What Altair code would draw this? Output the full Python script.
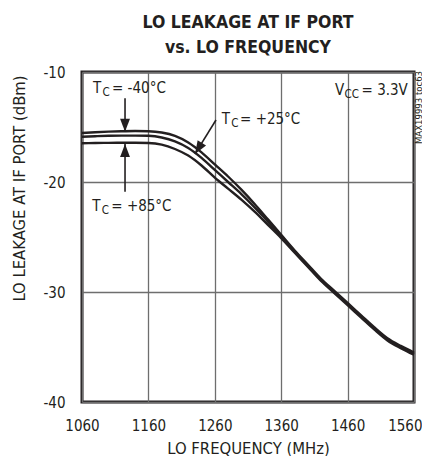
import altair as alt
import pandas as pd

# ---- data ----
freq = [1060, 1080, 1100, 1120, 1140, 1160, 1180, 1200, 1220, 1240, 1260, 1280, 1300,
        1320, 1340, 1360, 1380, 1400, 1420, 1440, 1460, 1480, 1500, 1520, 1540, 1560]
tc_m40 = [-15.55, -15.48, -15.42, -15.38, -15.36, -15.38, -15.5, -15.8, -16.4, -17.3, -18.4, -19.5, -20.7,
          -22.0, -23.4, -24.8, -26.2, -27.5, -28.8, -29.9, -31.0, -32.1, -33.2, -34.2, -34.9, -35.5]
tc_p25 = [-15.88, -15.84, -15.8, -15.78, -15.78, -15.8, -15.95, -16.3, -16.9, -17.8, -18.9, -20.0, -21.1,
          -22.3, -23.6, -24.9, -26.3, -27.6, -28.9, -30.0, -31.1, -32.2, -33.3, -34.3, -35.0, -35.6]
tc_p85 = [-16.48, -16.46, -16.44, -16.43, -16.43, -16.45, -16.6, -17.0, -17.6, -18.5, -19.6, -20.6, -21.6,
          -22.7, -23.9, -25.1, -26.4, -27.7, -29.0, -30.1, -31.2, -32.3, -33.4, -34.4, -35.1, -35.7]
series_names = ["TC = -40°C", "TC = +25°C", "TC = +85°C"]

x_ticks = [1060, 1160, 1260, 1360, 1460, 1560]
y_ticks = [-40, -30, -20, -10]

# annotation labels (anchor in data units)
ann_main = ["T", "T", "T", "V"]
ann_sub = ["C", "C", "C", "CC"]
ann_rest = ["= -40°C", "= +25°C", "= +85°C", "= 3.3V"]
ann_freq = [1076.6, 1270.4, 1075.5, 1441.0]
ann_db = [-11.94, -14.75, -22.64, -12.09]
ann_rest_freq = [1105.2, 1298.0, 1104.1, 1481.0]

# arrows (start -> tip) in data units
arr_f1 = [1124.8, 1124.8, 1261.8]
arr_d1 = [-12.39, -20.88, -14.36]
arr_f2 = [1124.8, 1124.8, 1230.2]
arr_d2 = [-15.43, -16.55, -17.45]
arr_ang = [0, 180, 31.7]

side_note = "MAX19993 toc63"

FONT = "'Liberation Sans Narrow', 'DejaVu Sans Condensed', Roboto, sans-serif"
INK = "#231f20"

rows = []
for name, vals in zip(series_names, [tc_m40, tc_p25, tc_p85]):
    for f, v in zip(freq, vals):
        rows.append({"freq": f, "db": v, "series": name})
df = pd.DataFrame(rows)

ann = pd.DataFrame({"main": ann_main, "sub": ann_sub, "rest": ann_rest,
                    "freq": ann_freq, "db": ann_db})
ann_r = pd.DataFrame({"rest": ann_rest, "freq": ann_rest_freq, "db": ann_db})
arr = pd.DataFrame({"freq": arr_f1, "db": arr_d1, "f2": arr_f2, "d2": arr_d2, "ang": arr_ang})
heads_df = pd.DataFrame({"freq": arr_f2, "db": arr_d2, "ang": arr_ang})
note = pd.DataFrame({"t": [side_note]})

xs = alt.Scale(domain=[1060, 1560], nice=False, zero=False)
ys = alt.Scale(domain=[-40, -10], nice=False, zero=False)

x_axis = alt.Axis(values=x_ticks, labelExpr="'' + datum.value", title="LO FREQUENCY (MHz)", grid=True,
                  gridColor="#6e6e6e", gridWidth=1.3, ticks=False, tickSize=0, domain=False,
                  labelFont=FONT, labelFontSize=15, labelColor=INK, labelPadding=16.5,
                  labelFlush=False, labelOverlap=False,
                  labelAlign=alt.condition("datum.value == 1560", alt.value("right"), alt.value("center")),
                  labelOffset=alt.condition("datum.value == 1560", alt.value(8), alt.value(0)),
                  titleFont=FONT, titleFontSize=16.5, titleFontWeight="normal", titleColor=INK,
                  titleY=51, titleBaseline="alphabetic")
y_axis = alt.Axis(values=y_ticks, labelExpr="'' + datum.value", title="LO LEAKAGE AT IF PORT (dBm)", grid=True,
                  gridColor="#6e6e6e", gridWidth=1.3, ticks=False, tickSize=0, domain=False,
                  labelFont=FONT, labelFontSize=15, labelColor=INK, labelPadding=17,
                  labelFlush=False, labelOverlap=False,
                  titleFont=FONT, titleFontSize=16.5, titleFontWeight="normal", titleColor=INK,
                  titleX=-63, titleY=116, titleAngle=270, titleBaseline="middle", titleAlign="center")

X = alt.X("freq:Q", scale=xs, axis=x_axis)
Y = alt.Y("db:Q", scale=ys, axis=y_axis)

lines = alt.Chart(df).mark_line(color=INK, strokeWidth=2.4, interpolate="monotone").encode(
    x=X, y=Y, detail="series:N")

txt_main = alt.Chart(ann).mark_text(font=FONT, fontSize=15, color=INK, align="left",
                                    baseline="alphabetic").encode(x=X, y=Y, text="main:N")
txt_sub = alt.Chart(ann).mark_text(font=FONT, fontSize=11.5, color=INK, align="left",
                                   baseline="alphabetic", dx=9.5, dy=3).encode(x=X, y=Y, text="sub:N")
txt_rest = alt.Chart(ann_r).mark_text(font=FONT, fontSize=15, color=INK, align="left",
                                      baseline="alphabetic").encode(x=X, y=Y, text="rest:N")

shafts = alt.Chart(arr).mark_rule(color=INK, strokeWidth=1.6).encode(
    x=X, y=Y, x2="f2:Q", y2="d2:Q")
heads = alt.Chart(heads_df).mark_point(shape="M0,0L-0.38,-1L0.38,-1Z", filled=True, size=676,
                                       color=INK, opacity=1, strokeWidth=0).encode(
    x=X, y=Y, angle=alt.Angle("ang:Q", scale=None))

side = alt.Chart(note).mark_text(font=FONT, fontSize=9.5, color=INK, angle=270,
                                 align="center", baseline="middle").encode(
    x=alt.value(336.5), y=alt.value(35.5), text="t:N")

chart = alt.layer(lines, shafts, heads, txt_main, txt_sub, txt_rest, side).properties(
    width=332, height=330,
    title=alt.Title(["LO LEAKAGE AT IF PORT", "vs. LO FREQUENCY"], font=FONT, fontSize=17.5,
                    fontWeight="bold", color=INK, lineHeight=25, anchor="middle", offset=9),
    padding={"left": 74, "top": 64, "right": 8, "bottom": 54},
    autosize=alt.AutoSizeParams(type="none"),
).configure_view(stroke=INK, strokeWidth=3)

chart.save("out.html", embed_options={"renderer": "svg", "actions": False})
